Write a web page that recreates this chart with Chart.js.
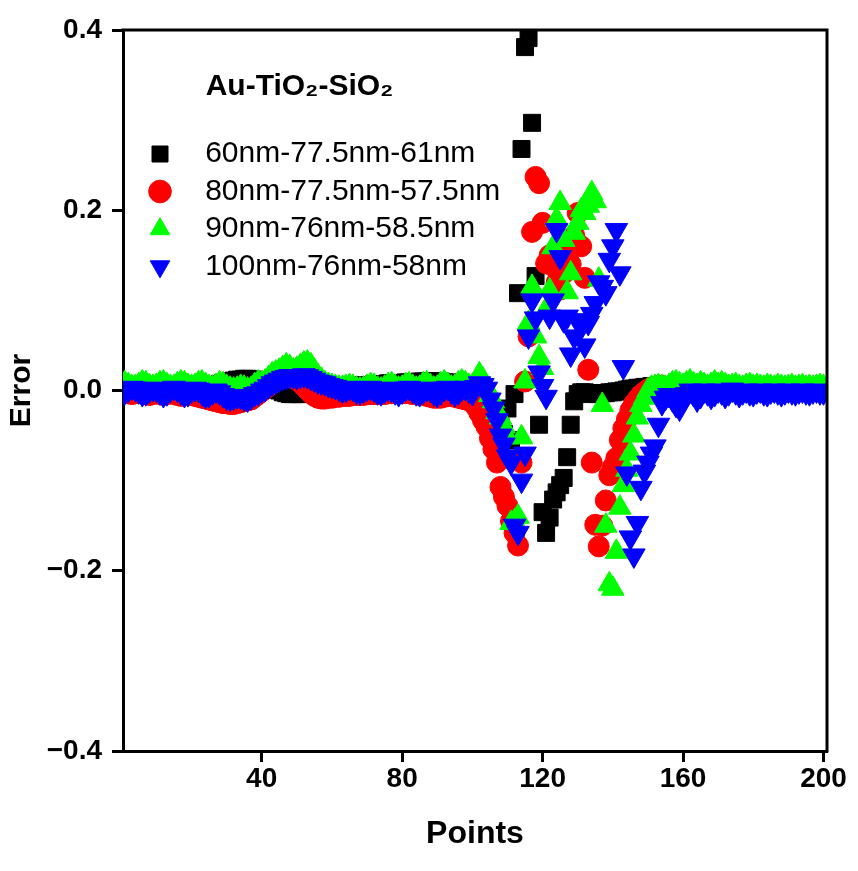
<!DOCTYPE html>
<html>
<head>
<meta charset="utf-8">
<script src="https://cdn.jsdelivr.net/npm/chart.js@4.4.1/dist/chart.umd.min.js"></script>
<style>
  body { margin: 0; background: #fff; }
  canvas { display: block; }
</style>
</head>
<body>
<canvas id="chart-1" width="858" height="871"></canvas>
<script>
// Error values, point 1..200
const black = [
  0.002, 0.003, 0.002, 0.001, 0.002, 0.003, 0.002, 0.001, 0.002, 0.003,
  0.002, 0.001, 0.002, 0.003, 0.002, 0.001, 0.001, 0.002, 0.003, 0.002,
  0.001, 0.002, 0.003, 0.003, 0.004, 0.005, 0.006, 0.007, 0.008, 0.009,
  0.010, 0.011, 0.012, 0.012, 0.013, 0.013, 0.012, 0.012, 0.011, 0.010,
  0.008, 0.006, 0.004, 0.002, 0.000, -0.002, -0.003, -0.004, -0.004, -0.004,
  -0.004, -0.003, -0.003, -0.002, -0.001, 0.000, 0.001, 0.002, 0.003, 0.003,
  0.004, 0.004, 0.004, 0.005, 0.005, 0.005, 0.006, 0.006, 0.006, 0.006,
  0.006, 0.007, 0.007, 0.007, 0.007, 0.008, 0.008, 0.008, 0.008, 0.008,
  0.009, 0.009, 0.009, 0.009, 0.010, 0.010, 0.010, 0.010, 0.010, 0.010,
  0.010, 0.009, 0.009, 0.008, 0.007, 0.006, 0.005, 0.004, 0.002, 0.000,
  -0.002, -0.005, -0.009, -0.014, -0.020, -0.026, -0.032, -0.040, -0.048, -0.020,
  -0.055, -0.004, 0.108, 0.268, 0.381, 0.391, 0.297, 0.127, -0.038, -0.135,
  -0.158, -0.141, -0.121, -0.113, -0.105, -0.097, -0.074, -0.038, -0.012, -0.004,
  -0.002, -0.002, -0.003, -0.003, -0.004, -0.004, -0.003, -0.003, -0.002, -0.002,
  -0.001, -0.001, 0.000, 0.001, 0.002, 0.002, 0.003, 0.003, 0.004, 0.004,
  0.005, 0.005, 0.006, 0.006, 0.006, 0.005, 0.005, 0.004, 0.004, 0.003,
  0.003, 0.003, 0.002, 0.002, 0.002, 0.002, 0.001, 0.001, 0.001, 0.001,
  0.001, 0.001, 0.000, 0.001, 0.001, 0.000, 0.001, 0.001, 0.000, 0.001,
  0.001, 0.000, 0.001, 0.001, 0.000, 0.001, 0.000, 0.001, 0.001, 0.000,
  0.001, 0.000, 0.001, 0.000, 0.001, 0.001, 0.000, 0.001, 0.000, 0.001
];
const red = [
  -0.002, -0.003, -0.004, -0.003, -0.002, -0.003, -0.004, -0.005, -0.004, -0.003,
  -0.004, -0.005, -0.004, -0.003, -0.004, -0.005, -0.006, -0.005, -0.004, -0.005,
  -0.006, -0.007, -0.008, -0.009, -0.010, -0.011, -0.012, -0.013, -0.014, -0.014,
  -0.015, -0.015, -0.014, -0.013, -0.012, -0.011, -0.010, -0.007, -0.004, -0.001,
  0.002, 0.005, 0.008, 0.011, 0.013, 0.014, 0.015, 0.015, 0.014, 0.012,
  0.009, 0.005, 0.001, -0.003, -0.006, -0.008, -0.009, -0.009, -0.008, -0.008,
  -0.007, -0.007, -0.006, -0.006, -0.006, -0.005, -0.005, -0.005, -0.005, -0.004,
  -0.004, -0.004, -0.004, -0.004, -0.004, -0.003, -0.003, -0.003, -0.003, -0.003,
  -0.003, -0.003, -0.004, -0.004, -0.005, -0.005, -0.006, -0.007, -0.008, -0.008,
  -0.008, -0.007, -0.006, -0.006, -0.007, -0.008, -0.009, -0.010, -0.011, -0.012,
  -0.018, -0.025, -0.033, -0.040, -0.053, -0.065, -0.080, -0.107, -0.118, -0.128,
  -0.145, -0.158, -0.172, -0.080, 0.010, 0.060, 0.176, 0.237, 0.230, 0.186,
  0.141, 0.150, 0.138, 0.120, 0.112, 0.130, 0.160, 0.140, 0.172, 0.197,
  0.160, 0.125, 0.023, -0.080, -0.149, -0.173, -0.150, -0.122, -0.094, -0.085,
  -0.075, -0.055, -0.042, -0.032, -0.022, -0.015, -0.010, -0.005, -0.002, 0.001,
  0.003, 0.004, 0.005, 0.005, 0.004, 0.004, 0.003, 0.003, 0.002, 0.002,
  0.002, 0.001, 0.001, 0.001, 0.000, 0.000, 0.000, 0.001, 0.001, 0.000,
  0.000, -0.001, -0.001, 0.000, 0.000, -0.001, -0.001, 0.000, 0.000, -0.001,
  -0.001, 0.000, 0.000, -0.001, -0.001, 0.000, 0.000, -0.001, -0.001, 0.000,
  0.000, -0.001, -0.001, 0.000, 0.000, -0.001, 0.000, 0.000, -0.001, 0.000
];
const green = [
  0.008, 0.006, 0.004, 0.004, 0.006, 0.009, 0.008, 0.005, 0.004, 0.005,
  0.008, 0.009, 0.006, 0.004, 0.004, 0.007, 0.009, 0.008, 0.005, 0.004,
  0.005, 0.008, 0.009, 0.006, 0.004, 0.003, 0.005, 0.008, 0.007, 0.004,
  0.002, 0.001, 0.002, 0.004, 0.003, 0.001, 0.002, 0.006, 0.009, 0.008,
  0.010, 0.014, 0.018, 0.020, 0.022, 0.025, 0.028, 0.026, 0.022, 0.024,
  0.027, 0.030, 0.031, 0.028, 0.022, 0.016, 0.012, 0.008, 0.006, 0.005,
  0.004, 0.003, 0.003, 0.004, 0.005, 0.004, 0.002, 0.001, 0.002, 0.004,
  0.006, 0.005, 0.002, 0.001, 0.003, 0.006, 0.007, 0.004, 0.002, 0.003,
  0.006, 0.007, 0.004, 0.002, 0.003, 0.007, 0.008, 0.005, 0.002, 0.003,
  0.007, 0.009, 0.006, 0.003, 0.004, 0.008, 0.010, 0.008, 0.005, 0.004,
  0.010, 0.018, 0.012, 0.004, -0.005, -0.012, -0.024, -0.030, -0.040, -0.052,
  -0.147, -0.145, -0.140, -0.052, 0.010, 0.075, 0.115, 0.060, 0.037, 0.025,
  0.090, 0.111, 0.159, 0.190, 0.208, 0.167, 0.109, 0.130, 0.175, 0.186,
  0.200, 0.197, 0.205, 0.219, 0.210, 0.123, -0.016, -0.150, -0.215, -0.220,
  -0.179, -0.130, -0.105, -0.088, -0.070, -0.050, -0.030, -0.016, -0.008, 0.000,
  0.003, 0.004, 0.005, 0.004, 0.003, 0.005, 0.008, 0.009, 0.007, 0.005,
  0.008, 0.010, 0.007, 0.005, 0.008, 0.006, 0.004, 0.006, 0.009, 0.006,
  0.008, 0.006, 0.004, 0.005, 0.006, 0.004, 0.003, 0.005, 0.006, 0.004,
  0.005, 0.004, 0.003, 0.005, 0.004, 0.003, 0.005, 0.004, 0.003, 0.004,
  0.005, 0.003, 0.004, 0.005, 0.003, 0.004, 0.003, 0.004, 0.005, 0.004
];
const blue = [
  -0.002, 0.001, 0.003, 0.002, -0.001, -0.004, -0.003, 0.000, 0.002, 0.001,
  -0.002, -0.005, -0.003, 0.001, 0.003, 0.001, -0.002, -0.005, -0.004, 0.000,
  0.002, 0.001, -0.003, -0.006, -0.005, -0.002, 0.000, -0.002, -0.005, -0.008,
  -0.009, -0.008, -0.006, -0.007, -0.009, -0.010, -0.007, -0.004, -0.003, 0.000,
  0.002, 0.005, 0.008, 0.010, 0.012, 0.014, 0.015, 0.016, 0.016, 0.015,
  0.016, 0.017, 0.016, 0.014, 0.012, 0.010, 0.009, 0.008, 0.006, 0.005,
  0.004, 0.002, 0.000, 0.001, 0.003, 0.002, -0.001, -0.002, 0.000, 0.002,
  0.003, 0.001, -0.002, -0.003, 0.000, 0.002, 0.001, -0.002, -0.004, -0.001,
  0.002, 0.003, 0.000, -0.003, -0.004, -0.001, 0.002, 0.001, -0.003, -0.005,
  -0.002, 0.002, 0.003, -0.001, -0.004, -0.002, 0.002, 0.003, 0.000, -0.003,
  0.004, 0.008, 0.006, 0.002, -0.010, -0.020, -0.033, -0.050, -0.060, -0.073,
  -0.080, -0.150, -0.158, -0.100, -0.070, 0.060, 0.100, 0.080, 0.020, 0.005,
  -0.007, 0.082, 0.100, 0.178, 0.148, 0.078, 0.082, 0.040, 0.060, 0.078,
  0.070, 0.050, 0.075, 0.085, 0.097, 0.120, 0.115, 0.108, 0.145, 0.160,
  0.178, 0.130, 0.026, -0.092, -0.163, -0.183, -0.147, -0.108, -0.090, -0.080,
  -0.070, -0.062, -0.038, -0.014, -0.008, -0.005, -0.010, -0.016, -0.020, -0.012,
  -0.004, 0.000, -0.004, -0.010, -0.006, 0.000, -0.003, -0.007, -0.004, 0.000,
  -0.002, -0.006, -0.003, 0.001, -0.002, -0.005, -0.002, 0.000, -0.003, -0.004,
  -0.001, 0.000, -0.003, -0.004, -0.001, 0.000, -0.002, -0.004, -0.002, 0.000,
  -0.002, -0.003, -0.001, 0.000, -0.002, -0.003, -0.001, 0.000, -0.002, -0.002
];
const seriesNames = [
  "60nm-77.5nm-61nm",
  "80nm-77.5nm-57.5nm",
  "90nm-76nm-58.5nm",
  "100nm-76nm-58nm"
];
const legendTitle = "Au-TiO\u2082-SiO\u2082";
const xTicks = [40, 80, 120, 160, 200];
const yTicks = [-0.4, -0.2, 0, 0.2, 0.4];

const FONT = "'Liberation Sans', Arial, Helvetica, sans-serif";

// point number -> error value
function toPoints(values) {
  return values.map((v, i) => ({ x: i + 1, y: v }));
}

function series(label, values, color, style, radius, rotation, order) {
  return {
    label: label,
    data: toPoints(values),
    backgroundColor: color,
    borderColor: color,
    borderWidth: 1,
    pointStyle: style,
    pointRadius: radius,
    pointRotation: rotation,
    order: order,
    clip: 0
  };
}

// top and right sides of the frame
const frame = {
  id: "frame",
  afterDraw(chart) {
    const a = chart.chartArea;
    const ctx = chart.ctx;
    ctx.save();
    ctx.strokeStyle = "#000";
    ctx.lineWidth = 3;
    ctx.beginPath();
    ctx.moveTo(a.left - 1.5, a.top);
    ctx.lineTo(a.right, a.top);
    ctx.lineTo(a.right, a.bottom + 1.5);
    ctx.stroke();
    ctx.restore();
  }
};

// move the in-plot legend into place (a vertical legend gets top = 0)
const legendShift = {
  id: "legendShift",
  afterLayout(chart) {
    const lg = chart.legend;
    if (lg) {
      const dy = chart.chartArea.top - lg.top;
      lg.left += 16;
      lg.right += 16;
      lg.top += dy;
      lg.bottom += dy;
    }
  }
};

const ctx = document.getElementById("chart-1").getContext("2d");
const myChart = new Chart(ctx, {
  type: "scatter",
  data: {
    datasets: [
      series(seriesNames[0], black, "#000000", "rect", 12, 0, 4),
      series(seriesNames[1], red, "#ff0000", "circle", 10.5, 0, 3),
      series(seriesNames[2], green, "#00ff00", "triangle", 13, 0, 2),
      series(seriesNames[3], blue, "#0000ff", "triangle", 13, 180, 1)
    ]
  },
  options: {
    responsive: false,
    animation: false,
    devicePixelRatio: 1,
    events: [],
    layout: { padding: { top: 30, right: 31, left: 0, bottom: 0 } },
    plugins: {
      tooltip: { enabled: false },
      legend: {
        position: "chartArea",
        align: "start",
        labels: {
          usePointStyle: true,
          boxWidth: 27,
          boxHeight: 16,
          padding: 7.5,
          color: "#000",
          font: { family: FONT, size: 30 },
          generateLabels(chart) {
            const items = Chart.defaults.plugins.legend.labels.generateLabels(chart);
            items.forEach((it) => { it.text = "  " + it.text; });
            return items;
          },
          sort: (a, b) => a.datasetIndex - b.datasetIndex
        },
        title: {
          display: true,
          position: "start",
          text: "        " + legendTitle,
          color: "#000",
          font: { family: FONT, size: 30, weight: "bold" },
          padding: { top: 42, bottom: 23.5 }
        }
      }
    },
    scales: {
      x: {
        type: "linear",
        min: 0.5,
        max: 201,
        afterBuildTicks: (scale) => { scale.ticks = xTicks.map((v) => ({ value: v })); },
        afterFit: (scale) => { scale.height = 120; },
        ticks: {
          color: "#000",
          padding: 0,
          maxRotation: 0,
          font: { family: FONT, size: 28, weight: "bold" },
          callback: (v) => String(v)
        },
        grid: { display: true, drawOnChartArea: false, drawTicks: true, tickLength: 11, tickWidth: 3, tickColor: "#000" },
        border: { display: true, width: 3, color: "#000" },
        title: {
          display: true,
          text: "Points",
          color: "#000",
          font: { family: FONT, size: 32, weight: "bold" },
          padding: { top: 0, bottom: 18 }
        }
      },
      y: {
        min: -0.4,
        max: 0.4,
        afterBuildTicks: (scale) => { scale.ticks = yTicks.map((v) => ({ value: v })); },
        afterFit: (scale) => { scale.width = 123; },
        ticks: {
          color: "#000",
          padding: 10,
          font: { family: FONT, size: 28, weight: "bold" },
          callback: (v) => (Math.abs(v) < 1e-9 ? "0.0" : v.toFixed(1)).replace("-", "\u2212")
        },
        grid: { display: true, drawOnChartArea: false, drawTicks: true, tickLength: 11, tickWidth: 3, tickColor: "#000" },
        border: { display: true, width: 3, color: "#000" },
        title: {
          display: true,
          text: "Error",
          color: "#000",
          font: { family: FONT, size: 30, weight: "bold" },
          padding: { top: 4, bottom: 0 }
        }
      }
    }
  },
  plugins: [frame, legendShift]
});
</script>
</body>
</html>
